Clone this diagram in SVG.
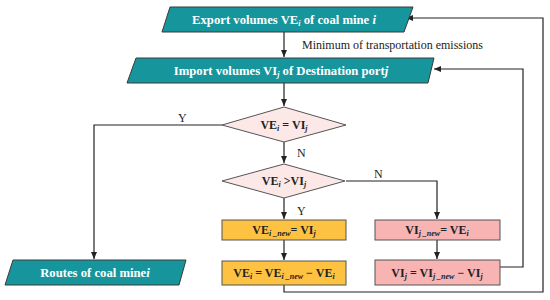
<svg xmlns="http://www.w3.org/2000/svg" width="550" height="300" viewBox="0 0 550 300">
<style>
.t{fill:#17959c;stroke:#3a3a3a;stroke-width:1}
.d{fill:#fce8e6;stroke:#555;stroke-width:1}
.o{fill:#fdc242;stroke:#555;stroke-width:1}
.p{fill:#f8b3b3;stroke:#555;stroke-width:1}
.w{font-family:"Liberation Serif",serif;font-weight:bold;font-size:12.7px;fill:#fff;text-anchor:middle}
.k{font-family:"Liberation Serif",serif;font-weight:bold;font-size:12px;fill:#222;text-anchor:middle}
.l{font-family:"Liberation Serif",serif;font-size:12px;fill:#222}
.s{font-size:8px;font-style:italic}
.i{font-style:italic}
.c{fill:none;stroke:#222;stroke-width:1.2}
</style>
<defs>
<marker id="a" markerWidth="8" markerHeight="8" refX="7" refY="4" orient="auto" markerUnits="userSpaceOnUse">
<path d="M0,1 L7,4 L0,7 Z" fill="#222"/>
</marker>
</defs>
<g id="connectors">
<path class="c" d="M284,32 V57" marker-end="url(#a)"/>
<path class="c" d="M284,83 V106" marker-end="url(#a)"/>
<path class="c" d="M284,142 V163" marker-end="url(#a)"/>
<path class="c" d="M284,198 V219" marker-end="url(#a)"/>
<path class="c" d="M284,240 V260" marker-end="url(#a)"/>
<path class="c" d="M437,240 V259" marker-end="url(#a)"/>
<path class="c" d="M346,181 H437 V219" marker-end="url(#a)"/>
<path class="c" d="M222,125 H94 V259" marker-end="url(#a)"/>
<path class="c" d="M500,267 H523 V69 H434" marker-end="url(#a)"/>
<path class="c" d="M284,285 V292 H543 V18 H406" marker-end="url(#a)"/>
<text class="l" x="302" y="49">Minimum of transportation emissions</text>
<text class="l" x="297" y="157">N</text>
<text class="l" x="297" y="215">Y</text>
<text class="l" x="374" y="178">N</text>
<text class="l" x="178" y="122">Y</text>
</g>
<g id="export">
<polygon class="t" points="170,7 413,7 404,32 162,32"/>
<text class="w" x="284" y="24">Export volumes VE<tspan class="s" dy="2">i</tspan><tspan dy="-2"> of coal mine </tspan><tspan class="i">i</tspan></text>
</g>
<g id="import">
<polygon class="t" points="136,58 434,58 428,83 127,83"/>
<text class="w" x="281" y="75">Import volumes VI<tspan class="s" dy="2">j</tspan><tspan dy="-2"> of Destination port</tspan><tspan class="i">j</tspan></text>
</g>
<g id="dec1">
<polygon class="d" points="284,107 346,125 284,142 222,125"/>
<text class="k" x="284" y="129">VE<tspan class="s" dy="2">i</tspan><tspan dy="-2"> = VI</tspan><tspan class="s" dy="2">j</tspan></text>
</g>
<g id="dec2">
<polygon class="d" points="284,164 345,181 284,198 222,181"/>
<text class="k" x="284" y="185">VE<tspan class="s" dy="2">i</tspan><tspan dy="-2"> &gt;VI</tspan><tspan class="s" dy="2">j</tspan></text>
</g>
<g id="o1">
<rect class="o" x="222" y="220" width="124" height="20"/>
<text class="k" x="284" y="234">VE<tspan class="s" dy="2">i _new</tspan><tspan dy="-2">= VI</tspan><tspan class="s" dy="2">j</tspan></text>
</g>
<g id="o2">
<rect class="o" x="222" y="261" width="124" height="24"/>
<text class="k" x="284" y="277">VE<tspan class="s" dy="2">i</tspan><tspan dy="-2"> = VE</tspan><tspan class="s" dy="2">i _new</tspan><tspan dy="-2"> − VE</tspan><tspan class="s" dy="2">i</tspan></text>
</g>
<g id="p1">
<rect class="p" x="375" y="220" width="125" height="20"/>
<text class="k" x="437" y="234">VI<tspan class="s" dy="2">j _new</tspan><tspan dy="-2">= VE</tspan><tspan class="s" dy="2">i</tspan></text>
</g>
<g id="p2">
<rect class="p" x="375" y="260" width="125" height="25"/>
<text class="k" x="437" y="277">VI<tspan class="s" dy="2">j</tspan><tspan dy="-2"> = VI</tspan><tspan class="s" dy="2">j _new</tspan><tspan dy="-2"> − VI</tspan><tspan class="s" dy="2">j</tspan></text>
</g>
<g id="routes">
<polygon class="t" points="13,260 186,260 179,285 5,285"/>
<text class="w" x="95" y="277">Routes of coal mine<tspan class="i">i</tspan></text>
</g>
</svg>
